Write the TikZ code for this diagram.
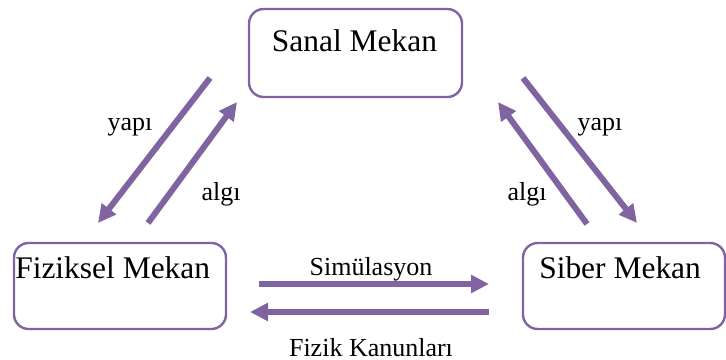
\documentclass[tikz,border=0pt]{standalone}
\usepackage{fontspec}
\setmainfont{Liberation Serif}
\usetikzlibrary{arrows.meta}
\definecolor{lavender}{HTML}{8064A2}
\begin{document}
\begin{tikzpicture}[x=0.75pt,y=-0.75pt,
  space/.style={draw=lavender,line width=1.8pt,rounded corners=11pt,
    rectangle,inner sep=0pt},
  spacename/.style={font=\fontsize{23.6pt}{28pt}\selectfont,inner sep=0pt},
  flow/.style={font=\fontsize{19.5pt}{23pt}\selectfont,inner sep=0pt,anchor=base},
  link/.style={draw=lavender,line width=4.5pt,
    -{Triangle[length=13.5pt,width=13pt]}}]
\useasboundingbox (0,0) rectangle (726,360);

% the three spaces
\node[space,minimum width=213*0.75pt,minimum height=88*0.75pt] (sanal) at (355.5,53) {};
\node[space,minimum width=212*0.75pt,minimum height=86*0.75pt] (fiziksel) at (120,286) {};
\node[space,minimum width=202*0.75pt,minimum height=86*0.75pt] (siber) at (624,286) {};

\node[spacename,anchor=base] (sanalT) at (354.5,52) {Sanal Mekan};
\node[spacename,anchor=base west] (fizikselT) at (15,278) {Fiziksel Mekan};
\node[spacename,anchor=base west] (siberT) at (539,278) {Siber Mekan};

% arrow end points
\coordinate (ly0) at (210,78);  \coordinate (ly1) at (98,223);
\coordinate (la0) at (148,223); \coordinate (la1) at (237,102);
\coordinate (ry0) at (523,78);  \coordinate (ry1) at (637,223);
\coordinate (ra0) at (587,224); \coordinate (ra1) at (498,102);
\coordinate (s0) at (259,284);  \coordinate (s1) at (489,284);
\coordinate (k0) at (489,312);  \coordinate (k1) at (250,312);

\draw[link] (ly0) -- (ly1);
\draw[link] (la0) -- (la1);
\draw[link] (ry0) -- (ry1);
\draw[link] (ra0) -- (ra1);
\draw[link] (s0) -- (s1);
\draw[link] (k0) -- (k1);

% labels
\node[flow] (lyapi) at (130,131) {yapı};
\node[flow] (lalgi) at (221,200) {algı};
\node[flow] (ryapi) at (600,131) {yapı};
\node[flow] (ralgi) at (527,200) {algı};
\node[flow] (sim) at (371,276) {Simülasyon};
\node[flow] (kanun) at (371,356) {Fizik Kanunları};
\end{tikzpicture}
\end{document}
